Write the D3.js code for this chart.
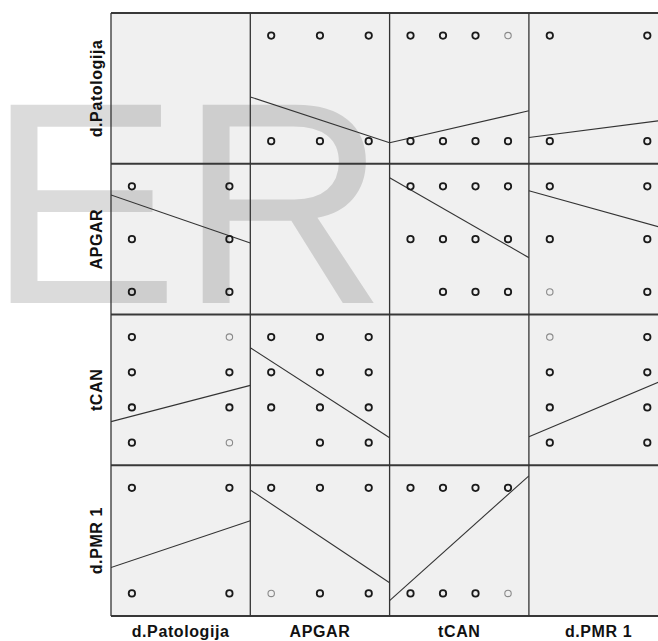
<!DOCTYPE html>
<html>
<head>
<meta charset="utf-8">
<script src="https://cdn.jsdelivr.net/npm/d3@7"></script>
<style>
    body { margin: 0; background: #fff; }
    svg { display: block; }
</style>
</head>
<body>
<svg class="splom" width="658" height="641"></svg>
<script>
// variables of the matrix and the levels each one takes
var varNames = ["d.Patologija", "APGAR", "tCAN", "d.PMR 1"];
var patologijaLevels = [0, 1];
var apgarLevels = [1, 2, 3];
var tcanLevels = [1, 2, 3, 4];
var pmrLevels = [0, 1];
var levels = [patologijaLevels, apgarLevels, tcanLevels, pmrLevels];

// combinations with no cases: [varA, valueA, varB, valueB]
var emptyCombos = [["APGAR", 1, "tCAN", 1]];

// markers drawn lighter (few cases): [y var, y value, x var, x value]
var lightMarkers = [
    ["d.Patologija", 1, "tCAN", 4],
    ["APGAR", 1, "d.PMR 1", 0],
    ["tCAN", 4, "d.Patologija", 1],
    ["tCAN", 1, "d.Patologija", 1],
    ["tCAN", 4, "d.PMR 1", 0],
    ["d.PMR 1", 0, "APGAR", 1],
    ["d.PMR 1", 0, "tCAN", 4]
];

// linear fit of y on x: [y var, x var, fitted y at lowest x, fitted y at highest x]
var fitLines = [
    ["d.Patologija", "APGAR", 0.354, 0.050],
    ["d.Patologija", "tCAN", 0.030, 0.242],
    ["d.Patologija", "d.PMR 1", 0.060, 0.179],
    ["APGAR", "d.Patologija", 2.700, 2.063],
    ["APGAR", "tCAN", 2.937, 1.876],
    ["APGAR", "d.PMR 1", 2.808, 2.293],
    ["tCAN", "d.Patologija", 1.751, 2.473],
    ["tCAN", "APGAR", 3.315, 1.523],
    ["tCAN", "d.PMR 1", 1.418, 2.587],
    ["d.PMR 1", "d.Patologija", 0.311, 0.622],
    ["d.PMR 1", "APGAR", 0.848, 0.233],
    ["d.PMR 1", "tCAN", 0.109, 0.937]
];

var originX = 111,
    originY = 13,
    cellW = 139.3,
    cellH = 150.75,
    n = varNames.length;

var svg = d3.select(".splom");

function isEmpty(a, va, b, vb) {
    return emptyCombos.some(function (cb) {
        return (cb[0] == a && cb[1] == va && cb[2] == b && cb[3] == vb) ||
            (cb[0] == b && cb[1] == vb && cb[2] == a && cb[3] == va);
    });
}

function isLight(yName, yv, xName, xv) {
    return lightMarkers.some(function (m) {
        return m[0] == yName && m[1] == yv && m[2] == xName && m[3] == xv;
    });
}

// scales per variable, inside one cell (15% padding each side)
var xScales = levels.map(function (lv) {
    return d3.scaleLinear().domain(d3.extent(lv)).range([cellW * 0.15, cellW * 0.85]);
});
var yScales = levels.map(function (lv) {
    return d3.scaleLinear().domain(d3.extent(lv)).range([cellH * 0.85, cellH * 0.15]);
});

// panel backgrounds
var cells = [];
for (var r = 0; r < n; r++) {
    for (var c = 0; c < n; c++) cells.push({ row: r, col: c });
}

svg.selectAll("rect.panel")
    .data(cells)
    .enter().append("rect")
    .attr("class", "panel")
    .attr("x", function (d) { return originX + d.col * cellW; })
    .attr("y", function (d) { return originY + d.row * cellH; })
    .attr("width", cellW)
    .attr("height", cellH)
    .attr("fill", "#f0f0f0");

// watermark
svg.append("text")
    .attr("x", -13)
    .attr("y", 303)
    .style("font-family", "'Liberation Sans', Arial, sans-serif")
    .style("font-size", "288px")
    .attr("fill", "#000")
    .attr("fill-opacity", 0.14)
    .text("ER");

svg.append("defs").selectAll("clipPath")
    .data(cells)
    .enter().append("clipPath")
    .attr("id", function (d) { return "clip-" + d.row + "-" + d.col; })
    .append("rect")
    .attr("width", cellW)
    .attr("height", cellH);

var cell = svg.selectAll("g.cell")
    .data(cells.filter(function (d) { return d.row != d.col; }))
    .enter().append("g")
    .attr("class", "cell")
    .attr("transform", function (d) {
        return "translate(" + (originX + d.col * cellW) + "," + (originY + d.row * cellH) + ")";
    });

// fit lines across the full cell width
cell.each(function (d) {
    var yName = varNames[d.row], xName = varNames[d.col];
    var fit = fitLines.find(function (f) { return f[0] == yName && f[1] == xName; });
    if (!fit) return;
    var sx = xScales[d.col], sy = yScales[d.row];
    var xd = sx.domain();
    var ends = [sx.invert(0), sx.invert(cellW)].map(function (xv) {
        var t = (xv - xd[0]) / (xd[1] - xd[0]);
        return [xv, fit[2] + t * (fit[3] - fit[2])];
    });
    d3.select(this).append("path")
        .attr("clip-path", "url(#clip-" + d.row + "-" + d.col + ")")
        .attr("d", d3.line()
            .x(function (p) { return sx(p[0]); })
            .y(function (p) { return sy(p[1]); })(ends))
        .attr("fill", "none")
        .attr("stroke", "#333")
        .attr("stroke-width", 1.1);
});

// points
cell.each(function (d) {
    var yName = varNames[d.row], xName = varNames[d.col];
    var pts = [];
    levels[d.col].forEach(function (xv) {
        levels[d.row].forEach(function (yv) {
            if (isEmpty(xName, xv, yName, yv)) return;
            pts.push({ x: xv, y: yv, light: isLight(yName, yv, xName, xv) });
        });
    });
    d3.select(this).selectAll("circle")
        .data(pts)
        .enter().append("circle")
        .attr("cx", function (p) { return xScales[d.col](p.x); })
        .attr("cy", function (p) { return yScales[d.row](p.y); })
        .attr("r", 3.2)
        .attr("fill", "none")
        .attr("stroke", function (p) { return p.light ? "#8a8a8a" : "#1a1a1a"; })
        .attr("stroke-width", function (p) { return p.light ? 1.1 : 1.8; });
});

// grid lines
svg.selectAll("line.h")
    .data(d3.range(n + 1))
    .enter().append("line")
    .attr("class", "h")
    .attr("x1", originX)
    .attr("x2", originX + n * cellW)
    .attr("y1", function (i) { return originY + i * cellH; })
    .attr("y2", function (i) { return originY + i * cellH; })
    .attr("stroke", "#383838")
    .attr("stroke-width", 2);

svg.selectAll("line.v")
    .data(d3.range(n + 1))
    .enter().append("line")
    .attr("class", "v")
    .attr("x1", function (i) { return originX + i * cellW; })
    .attr("x2", function (i) { return originX + i * cellW; })
    .attr("y1", originY)
    .attr("y2", originY + n * cellH)
    .attr("stroke", "#333")
    .attr("stroke-width", 1.3);

// variable labels
svg.selectAll("text.xlab")
    .data(varNames)
    .enter().append("text")
    .attr("class", "xlab")
    .attr("x", function (d, i) { return originX + (i + 0.5) * cellW; })
    .attr("y", 637)
    .attr("text-anchor", "middle")
    .style("font-family", "'Liberation Sans', Arial, sans-serif")
    .style("font-weight", "bold")
    .style("font-size", "16px")
    .style("letter-spacing", "0.6px")
    .attr("fill", "#111")
    .text(function (d) { return d; });

svg.selectAll("text.ylab")
    .data(varNames)
    .enter().append("text")
    .attr("class", "ylab")
    .attr("transform", function (d, i) {
        return "translate(102," + (originY + (i + 0.5) * cellH) + ") rotate(-90)";
    })
    .attr("text-anchor", "middle")
    .style("font-family", "'Liberation Sans', Arial, sans-serif")
    .style("font-weight", "bold")
    .style("font-size", "16px")
    .style("letter-spacing", "0.6px")
    .attr("fill", "#111")
    .text(function (d) { return d; });
</script>
</body>
</html>
